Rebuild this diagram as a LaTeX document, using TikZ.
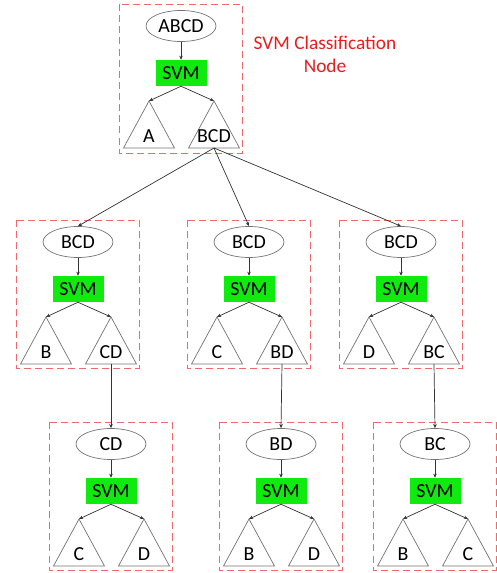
\documentclass[tikz,border=0pt]{standalone}
\usepackage{fontspec}
\setmainfont{Carlito}
\usetikzlibrary{shapes.geometric,arrows.meta}
\definecolor{svmgreen}{RGB}{15,235,15}
\definecolor{boxred}{RGB}{238,105,105}
\definecolor{txtred}{RGB}{232,28,28}
\newcommand\nodefont{\fontsize{17}{19}\selectfont}
\begin{document}
\begin{tikzpicture}[x=0.3mm,y=-0.3mm,
  grp/.style={draw=boxred, dash pattern=on 6pt off 3.5pt, line width=0.6pt},
  cls/.style={ellipse, draw=black!55, line width=0.6pt, minimum width=21mm, minimum height=9.3mm, inner sep=0pt, font=\nodefont},
  svm/.style={fill=svmgreen, minimum width=15.3mm, minimum height=7.8mm, inner sep=0pt, font=\nodefont},
  leaf/.style={inner sep=0pt, font=\nodefont},
  tri/.style={draw=black!55, line width=0.6pt},
  arr/.style={-{Stealth[length=3.5pt,width=3pt]}, draw=black!80, line width=0.6pt}]
\useasboundingbox (0,0) rectangle (497,573);

% top node
\draw[grp] (119,4) rectangle (242,153);
\node[cls] (cls0) at (181,26) {ABCD};
\node[svm] (svm0) at (181,73) {SVM};
\coordinate (lf0a) at (149,101);
\coordinate (lf0b) at (214,101);
\draw[tri] (lf0a) -- ++(-25.5,47) -- ++(51,0) -- cycle;
\draw[tri] (lf0b) -- ++(-25.5,47) -- ++(51,0) -- cycle;
\node[leaf] (lab0a) at (149,136) {A};
\node[leaf] (lab0b) at (214,136) {BCD};
\coordinate (out0) at (214,148);
\draw[arr] (cls0) -- (svm0);
\draw[arr] (svm0.south) -- (lf0a);
\draw[arr] (svm0.south) -- (lf0b);
\node[text=txtred, align=center, font=\fontsize{16.5}{19.5}\selectfont] (title) at (325,54) {SVM Classification\\Node};

% second row, left
\draw[grp] (16,220) rectangle (139,368);
\node[cls] (cls1) at (78,242) {BCD};
\node[svm] (svm1) at (78,289) {SVM};
\coordinate (lf1a) at (46,317);
\coordinate (lf1b) at (111,317);
\draw[tri] (lf1a) -- ++(-25.5,47) -- ++(51,0) -- cycle;
\draw[tri] (lf1b) -- ++(-25.5,47) -- ++(51,0) -- cycle;
\node[leaf] (lab1a) at (46,352) {B};
\node[leaf] (lab1b) at (111,352) {CD};
\coordinate (out1) at (111,364);
\draw[arr] (cls1) -- (svm1);
\draw[arr] (svm1.south) -- (lf1a);
\draw[arr] (svm1.south) -- (lf1b);

% second row, middle
\draw[grp] (187,220) rectangle (310,368);
\node[cls] (cls2) at (249,242) {BCD};
\node[svm] (svm2) at (249,289) {SVM};
\coordinate (lf2a) at (217,317);
\coordinate (lf2b) at (282,317);
\draw[tri] (lf2a) -- ++(-25.5,47) -- ++(51,0) -- cycle;
\draw[tri] (lf2b) -- ++(-25.5,47) -- ++(51,0) -- cycle;
\node[leaf] (lab2a) at (217,352) {C};
\node[leaf] (lab2b) at (282,352) {BD};
\coordinate (out2) at (282,364);
\draw[arr] (cls2) -- (svm2);
\draw[arr] (svm2.south) -- (lf2a);
\draw[arr] (svm2.south) -- (lf2b);

% second row, right
\draw[grp] (339,220) rectangle (462,368);
\node[cls] (cls3) at (401,242) {BCD};
\node[svm] (svm3) at (401,289) {SVM};
\coordinate (lf3a) at (369,317);
\coordinate (lf3b) at (434,317);
\draw[tri] (lf3a) -- ++(-25.5,47) -- ++(51,0) -- cycle;
\draw[tri] (lf3b) -- ++(-25.5,47) -- ++(51,0) -- cycle;
\node[leaf] (lab3a) at (369,352) {D};
\node[leaf] (lab3b) at (434,352) {BC};
\coordinate (out3) at (434,364);
\draw[arr] (cls3) -- (svm3);
\draw[arr] (svm3.south) -- (lf3a);
\draw[arr] (svm3.south) -- (lf3b);

% third row, left
\draw[grp] (49,422) rectangle (172,570);
\node[cls] (cls4) at (111,444) {CD};
\node[svm] (svm4) at (111,491) {SVM};
\coordinate (lf4a) at (79,519);
\coordinate (lf4b) at (144,519);
\draw[tri] (lf4a) -- ++(-25.5,47) -- ++(51,0) -- cycle;
\draw[tri] (lf4b) -- ++(-25.5,47) -- ++(51,0) -- cycle;
\node[leaf] (lab4a) at (79,554) {C};
\node[leaf] (lab4b) at (144,554) {D};
\draw[arr] (cls4) -- (svm4);
\draw[arr] (svm4.south) -- (lf4a);
\draw[arr] (svm4.south) -- (lf4b);

% third row, middle
\draw[grp] (219,422) rectangle (342,570);
\node[cls] (cls5) at (281,444) {BD};
\node[svm] (svm5) at (281,491) {SVM};
\coordinate (lf5a) at (249,519);
\coordinate (lf5b) at (314,519);
\draw[tri] (lf5a) -- ++(-25.5,47) -- ++(51,0) -- cycle;
\draw[tri] (lf5b) -- ++(-25.5,47) -- ++(51,0) -- cycle;
\node[leaf] (lab5a) at (249,554) {B};
\node[leaf] (lab5b) at (314,554) {D};
\draw[arr] (cls5) -- (svm5);
\draw[arr] (svm5.south) -- (lf5a);
\draw[arr] (svm5.south) -- (lf5b);

% third row, right
\draw[grp] (373,422) rectangle (496,570);
\node[cls] (cls6) at (435,444) {BC};
\node[svm] (svm6) at (435,491) {SVM};
\coordinate (lf6a) at (403,519);
\coordinate (lf6b) at (468,519);
\draw[tri] (lf6a) -- ++(-25.5,47) -- ++(51,0) -- cycle;
\draw[tri] (lf6b) -- ++(-25.5,47) -- ++(51,0) -- cycle;
\node[leaf] (lab6a) at (403,554) {B};
\node[leaf] (lab6b) at (468,554) {C};
\draw[arr] (cls6) -- (svm6);
\draw[arr] (svm6.south) -- (lf6a);
\draw[arr] (svm6.south) -- (lf6b);

% links between levels
\draw[arr] (out0) -- (cls1.north);
\draw[arr] (out0) -- (cls2.north);
\draw[arr] (out0) -- (cls3.north);
\draw[arr] (out1) -- (cls4.north);
\draw[arr] (out2) -- (cls5.north);
\draw[arr] (out3) -- (cls6.north);

\end{tikzpicture}
\end{document}
